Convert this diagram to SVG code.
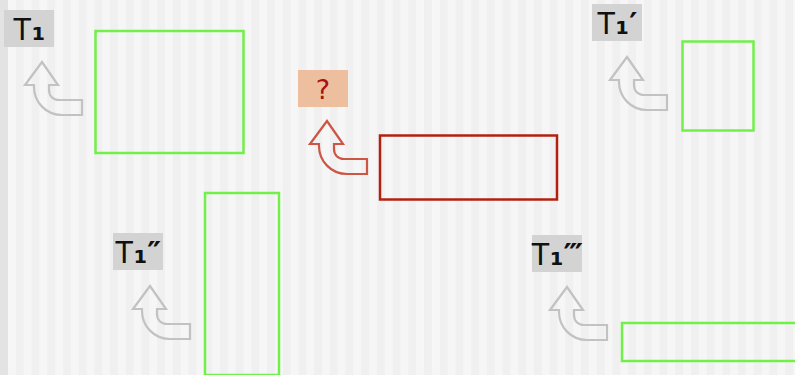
<svg xmlns="http://www.w3.org/2000/svg" width="795" height="375" viewBox="0 0 795 375">
<defs>
<pattern id="stripes" x="8" y="0" width="15.7" height="10" patternUnits="userSpaceOnUse">
<rect x="0" y="0" width="15.7" height="10" fill="#f6f6f6"/>
<rect x="7.85" y="0" width="7.85" height="10" fill="#f0f0f0"/>
</pattern>
<path id="arr" d="M0,0 L16,23 L7,23 L7,28 C7,34 11,38 17,38 L40,38 L40,53 L20,53 C4,53 -8,40 -8,25 L-8,23 L-17,23 Z"/>
</defs>
<style>
.green{fill:none;stroke:#72f04a;stroke-width:2.5}
.red{fill:none;stroke:#b32010;stroke-width:2.5}
.lbl{fill:#d3d3d3}
.q{fill:#edbf9f}
.t{font-family:"Liberation Sans",sans-serif;font-size:31px;text-anchor:middle;fill:#111}
.s{font-family:"DejaVu Sans",sans-serif;font-weight:bold}
.qt{font-family:"DejaVu Sans",sans-serif;font-size:27px;text-anchor:middle;fill:#aa1111}
.ga{fill:none;stroke:#c2c2c2;stroke-width:2.2;stroke-linejoin:miter}
.ra{fill:none;stroke:#cc5544;stroke-width:2.2}
</style>
<rect x="0" y="0" width="795" height="375" fill="url(#stripes)"/>
<rect x="0" y="0" width="8" height="375" fill="#e3e3e3"/>

<g id="connectors">
<use href="#arr" class="ga" transform="translate(42,62)"/>
<use href="#arr" class="ra" transform="translate(327,121)"/>
<use href="#arr" class="ga" transform="translate(627,57)"/>
<use href="#arr" class="ga" transform="translate(150,286)"/>
<use href="#arr" class="ga" transform="translate(567,287)"/>
</g>

<g id="box1"><rect class="green" x="95.5" y="31" width="148" height="122"/></g>
<g id="boxq"><rect class="red" x="380" y="135.5" width="177" height="64"/></g>
<g id="box2"><rect class="green" x="682.5" y="41.5" width="71" height="89"/></g>
<g id="box3"><rect class="green" x="205" y="193" width="74" height="182"/></g>
<g id="box4"><rect class="green" x="622" y="323" width="200" height="38"/></g>

<g id="label1"><rect class="lbl" x="4" y="10" width="50" height="37"/><text class="t" x="29" y="40">T<tspan class="s">₁</tspan></text></g>
<g id="labelq"><rect class="q" x="298" y="70" width="50" height="37"/><text class="qt" x="323" y="99">?</text></g>
<g id="label2"><rect class="lbl" x="592" y="4" width="50" height="37"/><text class="t" x="617" y="34">T<tspan class="s">₁′</tspan></text></g>
<g id="label3"><rect class="lbl" x="113" y="233" width="50" height="37"/><text class="t" x="138" y="263">T<tspan class="s">₁″</tspan></text></g>
<g id="label4"><rect class="lbl" x="532" y="235" width="50" height="37"/><text class="t" x="557" y="265">T<tspan class="s">₁‴</tspan></text></g>
</svg>
